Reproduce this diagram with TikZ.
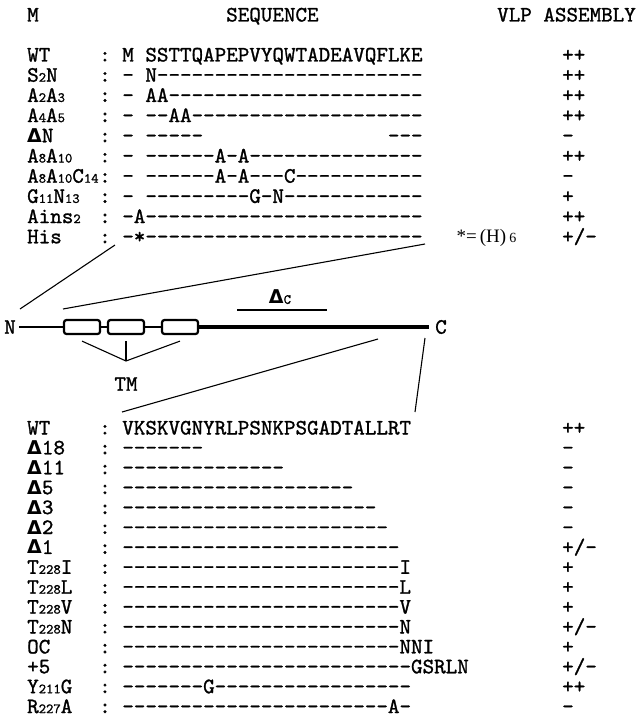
\documentclass[tikz,border=0pt]{standalone}
\usepackage{amsmath}
\usepackage[no-math]{fontspec}
\setmonofont{lmmono10-regular.otf}[FakeBold=1.2]
\newfontfamily\deltafont{DejaVu Sans}
\newfontfamily\notefont{Liberation Serif}
\usepackage{tikz}
\usetikzlibrary{positioning}

\newcommand{\rs}[1]{{\fontsize{14}{14}\selectfont #1}}
\newcommand{\dlt}{{\deltafont\bfseries\fontsize{19}{19}\selectfont Δ}}
\newcommand{\dsh}[1]{\foreach \k in {1,...,#1}{-\kern0pt}}

\tikzset{
  lab/.style={anchor=base west, inner sep=0pt},
  seqtxt/.style={anchor=base west, inner sep=0pt},
  vlp/.style={anchor=base west, inner sep=0pt},
  tmbox/.style={draw, line width=2.2pt, rounded corners=2.5pt, minimum width=36pt, minimum height=14pt, inner sep=0pt},
  guide/.style={line width=1.1pt},
}

\begin{document}
\begin{tikzpicture}[x=1pt,y=-1pt,font=\fontsize{22}{22}\selectfont\ttfamily]
  \useasboundingbox (0,0) rectangle (642,717);
  % headers
  \node[lab] (hM) at (27,21.5) {M};
  \node[lab] (hSeq) at (226,21.5) {SEQUENCE};
  \node[lab] (hVlp) at (497,21.5) {VLP ASSEMBLY};
  % N-terminal mutants
  \foreach \lab/\seq/\res [count=\i] in {
    WT/{M SSTTQAPEPVYQWTADEAVQFLKE}/{++},
    S\rs{2}N/{- N\dsh{23}}/{++},
    A\rs{2}A\rs{3}/{- AA\dsh{22}}/{++},
    A\rs{4}A\rs{5}/{- \dsh{2}AA\dsh{20}}/{++},
    \dlt N/{- \dsh{5}\hspace{8.4em}\dsh{3}}/{-},
    A\rs{8}A\rs{10}/{- \dsh{6}A-A\dsh{15}}/{++},
    A\rs{8}A\rs{10}C\rs{14}/{- \dsh{6}A-A\dsh{3}C\dsh{11}}/{-},
    G\rs{11}N\rs{13}/{- \dsh{9}G-N\dsh{12}}/{+},
    Ains\rs{2}/{-A\dsh{24}}/{++},
    His/{-*\dsh{24}}/{+/-}}{
    \node[lab] (nl\i) at (27,41.3+20.2*\i) {\lab};
    \node[seqtxt] (ns\i) at (99,41.3+20.2*\i) {: \seq};
    \node[vlp] (nv\i) at (562,41.3+20.2*\i) {\res};
  }
  \node[anchor=west, font=\fontsize{19}{19}\selectfont\notefont] (hisnote) at (453,238) {*=\,(H)\,\rs{6}};
  % protein
  \node[inner sep=3pt] (nterm) at (10,327) {N};
  \node[inner sep=6pt] (cterm) at (441,327) {C};
  \node[tmbox] (tm1) at (82,327) {};
  \node[tmbox] (tm2) at (126,327) {};
  \node[tmbox] (tm3) at (180,327) {};
  \draw[line width=2pt] (nterm.east) -- (tm1.west);
  \draw[line width=2pt] (tm1.east) -- (tm2.west);
  \draw[line width=2pt] (tm2.east) -- (tm3.west);
  \draw[line width=3.2pt] (tm3.east) -- (cterm.west);
  % TM
  \node (tm) at (126,384) {TM};
  \coordinate (tmtip) at (126,361);
  \draw[guide] ([yshift=-6pt]tm1.south) -- (tmtip);
  \draw[guide] ([yshift=-6pt]tm2.south) -- (tmtip);
  \draw[guide] ([yshift=-6pt]tm3.south) -- (tmtip);
  % Delta C
  \node (dc) at (280,297) {\dlt\rs{C}};
  \coordinate (dcl) at (237,310);
  \coordinate (dcr) at (327,310);
  \draw[line width=1.2pt] (dcl) -- (dcr);
  % zoom lines
  \coordinate (hisfoot) at (115,245);
  \coordinate (nfoot) at (20,309);
  \coordinate (ntop) at (63,309);
  \coordinate (ctop) at (425,244);
  \coordinate (wtleft) at (122,412);
  \coordinate (midlow) at (378,339);
  \coordinate (wtright) at (415,412);
  \coordinate (clow) at (425,338);
  \draw[guide] (hisfoot) -- (nfoot);
  \draw[guide] (ntop) -- (ctop);
  \draw[guide] (wtleft) -- (midlow);
  \draw[guide] (wtright) -- (clow);
  % C-terminal mutants
  \foreach \lab/\seq/\res [count=\i] in {
    WT/{VKSKVGNYRLPSNKPSGADTALLRT}/{++},
    \dlt18/{\dsh{7}}/{-},
    \dlt11/{\dsh{14}}/{-},
    \dlt5/{\dsh{20}}/{-},
    \dlt3/{\dsh{22}}/{-},
    \dlt2/{\dsh{23}}/{-},
    \dlt1/{\dsh{24}}/{+/-},
    T\rs{228}I/{\dsh{24}I}/{+},
    T\rs{228}L/{\dsh{24}L}/{+},
    T\rs{228}V/{\dsh{24}V}/{+},
    T\rs{228}N/{\dsh{24}N}/{+/-},
    OC/{\dsh{24}NNI}/{+},
    +5/{\dsh{25}GSRLN}/{+/-},
    Y\rs{211}G/{\dsh{7}G\dsh{17}}/{++},
    R\rs{227}A/{\dsh{23}A-}/{-}}{
    \node[lab] (cl\i) at (27,414.6+19.9*\i) {\lab};
    \node[seqtxt] (cs\i) at (99,414.6+19.9*\i) {: \seq};
    \node[vlp] (cv\i) at (562,414.6+19.9*\i) {\res};
  }
\end{tikzpicture}
\end{document}
